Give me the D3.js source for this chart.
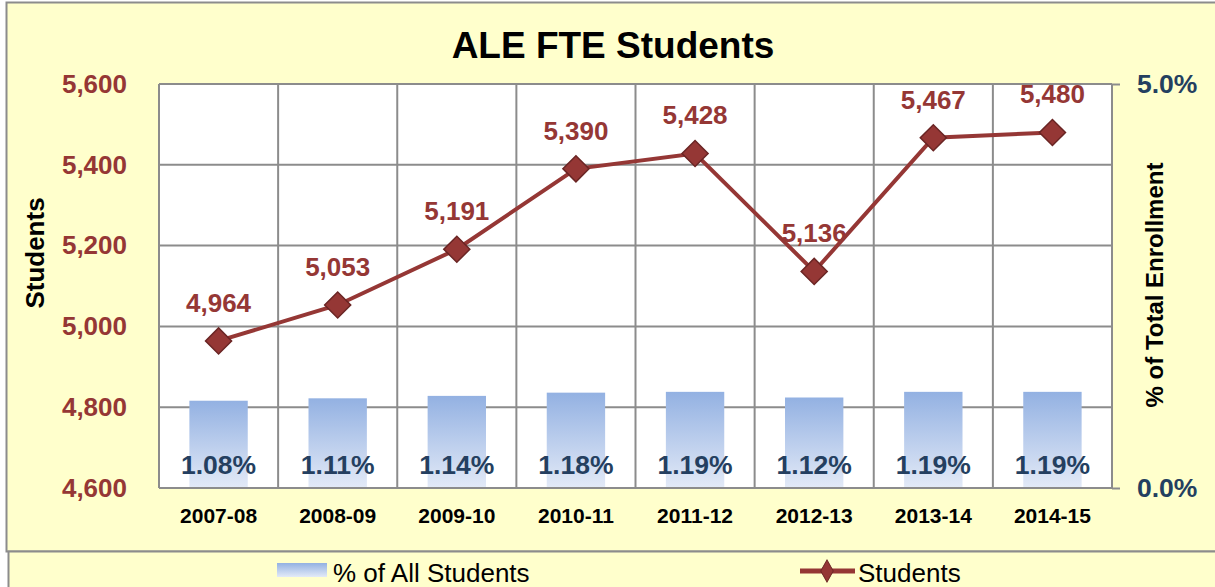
<!DOCTYPE html>
<html>
<head>
<meta charset="utf-8">
<script src="https://cdn.jsdelivr.net/npm/d3@7"></script>
<style>
  body { margin: 0; background: #fff; }
  svg { display: block; font-family: "Liberation Sans", Arial, sans-serif; }
</style>
</head>
<body>
<div id="chart"></div>
<script>
// data
var years = ["2007-08", "2008-09", "2009-10", "2010-11", "2011-12", "2012-13", "2013-14", "2014-15"];
var students = [4964, 5053, 5191, 5390, 5428, 5136, 5467, 5480];
var pctAll = [1.08, 1.11, 1.14, 1.18, 1.19, 1.12, 1.19, 1.19];
var leftTicks = [4600, 4800, 5000, 5200, 5400, 5600];
var rightTicks = [0, 5];

var W = 1215, H = 587;
var plot = {left: 159, right: 1112, top: 84, bottom: 488};
var red = "#953735", navy = "#243f60", grid = "#8c8c8c";

var svg = d3.select("#chart").append("svg")
  .attr("width", W)
  .attr("height", H);

var defs = svg.append("defs");
var grad = defs.append("linearGradient")
  .attr("id", "barGrad")
  .attr("x1", 0).attr("y1", 0).attr("x2", 0).attr("y2", 1);
grad.append("stop").attr("offset", "0%").attr("stop-color", "#93b1e2");
grad.append("stop").attr("offset", "100%").attr("stop-color", "#e3eaf7");

// background + borders
svg.append("rect")
  .attr("x", 6.5).attr("y", 2.5)
  .attr("width", W + 10).attr("height", 549)
  .attr("fill", "#ffffcc")
  .attr("stroke", grid).attr("stroke-width", 2);
svg.append("rect")
  .attr("x", 8.5).attr("y", 551.5)
  .attr("width", W + 10).attr("height", 60)
  .attr("fill", "#ffffcc")
  .attr("stroke", grid).attr("stroke-width", 2);

svg.append("rect")
  .attr("x", plot.left).attr("y", plot.top)
  .attr("width", plot.right - plot.left).attr("height", plot.bottom - plot.top)
  .attr("fill", "#fff");

// scales
var x = d3.scaleBand()
  .domain(years)
  .range([plot.left, plot.right])
  .paddingInner(0).paddingOuter(0);

var y = d3.scaleLinear()
  .domain([4600, 5600])
  .range([plot.bottom, plot.top]);

var y2 = d3.scaleLinear()
  .domain([0, 5])
  .range([plot.bottom, plot.top]);

// gridlines
svg.append("g")
  .selectAll("line")
  .data(leftTicks)
  .join("line")
  .attr("x1", plot.left).attr("x2", plot.right)
  .attr("y1", d => y(d)).attr("y2", d => y(d))
  .attr("stroke", grid).attr("stroke-width", 2);

svg.append("g")
  .selectAll("line")
  .data(years.concat(["end"]))
  .join("line")
  .attr("x1", (d, i) => plot.left + i * x.bandwidth())
  .attr("x2", (d, i) => plot.left + i * x.bandwidth())
  .attr("y1", plot.top).attr("y2", plot.bottom)
  .attr("stroke", grid).attr("stroke-width", 2);

// bars
var barW = x.bandwidth() * 0.49;
svg.append("g")
  .selectAll("rect")
  .data(pctAll)
  .join("rect")
  .attr("x", (d, i) => x(years[i]) + (x.bandwidth() - barW) / 2)
  .attr("y", d => y2(d))
  .attr("width", barW)
  .attr("height", d => plot.bottom - y2(d))
  .attr("fill", "url(#barGrad)");

// redraw bottom axis line on top of bars
svg.append("line")
  .attr("x1", plot.left).attr("x2", plot.right)
  .attr("y1", plot.bottom).attr("y2", plot.bottom)
  .attr("stroke", grid).attr("stroke-width", 2);

// bar labels
svg.append("g")
  .selectAll("text")
  .data(pctAll)
  .join("text")
  .attr("x", (d, i) => x(years[i]) + x.bandwidth() / 2)
  .attr("y", 474)
  .attr("text-anchor", "middle")
  .attr("fill", navy)
  .attr("font-size", 26.5)
  .attr("font-weight", "bold")
  .text(d => d.toFixed(2) + "%");

// left axis
var leftAxis = svg.append("g")
  .attr("transform", `translate(${plot.left},0)`)
  .call(d3.axisLeft(y).tickValues(leftTicks).tickSize(0).tickPadding(32).tickFormat(d3.format(",")));
leftAxis.select(".domain").remove();
leftAxis.selectAll("text")
  .attr("fill", red)
  .attr("font-size", 26)
  .attr("font-weight", "bold")
  .attr("font-family", "Liberation Sans, Arial, sans-serif");

// right axis
var rightAxis = svg.append("g")
  .attr("transform", `translate(${plot.right},0)`)
  .call(d3.axisRight(y2).tickValues(rightTicks).tickSize(8).tickPadding(17).tickFormat(d => d.toFixed(1) + "%"));
rightAxis.select(".domain").attr("stroke", grid).attr("stroke-width", 2).attr("d", `M0,${plot.top}V${plot.bottom}`);
rightAxis.selectAll(".tick line").attr("stroke", grid).attr("stroke-width", 2);
rightAxis.selectAll("text")
  .attr("fill", navy)
  .attr("font-size", 26.5)
  .attr("font-weight", "bold")
  .attr("font-family", "Liberation Sans, Arial, sans-serif");

// x axis labels
var xAxis = svg.append("g")
  .attr("transform", `translate(0,${plot.bottom})`)
  .call(d3.axisBottom(x).tickSize(0).tickPadding(20));
xAxis.select(".domain").remove();
xAxis.selectAll("text")
  .attr("fill", "#000")
  .attr("font-size", 21)
  .attr("font-weight", "bold")
  .attr("font-family", "Liberation Sans, Arial, sans-serif");

// line
var line = d3.line()
  .x((d, i) => x(years[i]) + x.bandwidth() / 2)
  .y(d => y(d));

svg.append("path")
  .datum(students)
  .attr("fill", "none")
  .attr("stroke", red)
  .attr("stroke-width", 4)
  .attr("d", line);

var diamond = d3.symbol().type(d3.symbolSquare).size(340);
svg.append("g")
  .selectAll("path")
  .data(students)
  .join("path")
  .attr("transform", (d, i) => `translate(${x(years[i]) + x.bandwidth() / 2},${y(d)}) rotate(45)`)
  .attr("d", diamond)
  .attr("fill", red)
  .attr("stroke", "#6a2524")
  .attr("stroke-width", 1.5);

// point labels
svg.append("g")
  .selectAll("text")
  .data(students)
  .join("text")
  .attr("x", (d, i) => x(years[i]) + x.bandwidth() / 2)
  .attr("y", d => y(d) - 29)
  .attr("text-anchor", "middle")
  .attr("fill", red)
  .attr("font-size", 26)
  .attr("font-weight", "bold")
  .text(d => d3.format(",")(d));

// title
svg.append("text")
  .attr("x", 613).attr("y", 58)
  .attr("text-anchor", "middle")
  .attr("font-size", 37)
  .attr("font-weight", "bold")
  .text("ALE FTE Students");

// axis titles
svg.append("text")
  .attr("transform", "translate(44,253) rotate(-90)")
  .attr("text-anchor", "middle")
  .attr("font-size", 26)
  .attr("font-weight", "bold")
  .text("Students");

svg.append("text")
  .attr("transform", "translate(1163,285) rotate(-90)")
  .attr("text-anchor", "middle")
  .attr("font-size", 24)
  .attr("font-weight", "bold")
  .text("% of Total Enrollment");

// legend
var lg = svg.append("g").attr("font-family", "Liberation Sans Narrow, Arial Narrow, sans-serif");
lg.append("rect")
  .attr("x", 277).attr("y", 563).attr("width", 50).attr("height", 14)
  .attr("fill", "url(#barGrad)");
lg.append("text")
  .attr("x", 333).attr("y", 582)
  .attr("font-size", 26)
  .text("% of All Students");

lg.append("line")
  .attr("x1", 800).attr("x2", 855).attr("y1", 571).attr("y2", 571)
  .attr("stroke", red).attr("stroke-width", 5);
lg.append("path")
  .attr("transform", "translate(827,571) scale(0.7,1.25) rotate(45)")
  .attr("d", d3.symbol().type(d3.symbolSquare).size(160)())
  .attr("fill", red)
  .attr("stroke", "#6a2524")
  .attr("stroke-width", 1);
lg.append("text")
  .attr("x", 858).attr("y", 582)
  .attr("font-size", 26)
  .text("Students");
</script>
</body>
</html>
